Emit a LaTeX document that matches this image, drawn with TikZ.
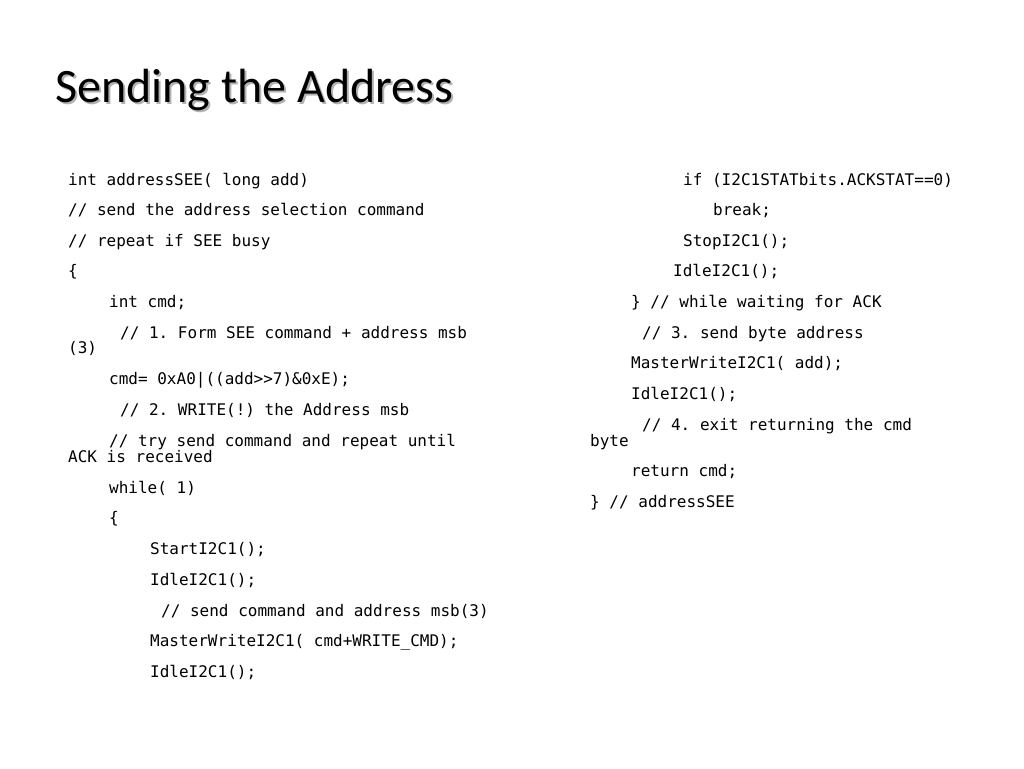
\documentclass[tikz,border=0pt]{standalone}
\usepackage{fontspec}
\setmainfont{Carlito}
\setmonofont{DejaVu Sans Mono}
\usetikzlibrary{shadows}

\begin{document}
\begin{tikzpicture}[x=1pt,y=-1pt,
    codeline/.style={anchor=base west,inner sep=0pt,font=\ttfamily\fontsize{16}{18}\selectfont},
    slidetitle/.style={anchor=base west,inner sep=0pt,font=\fontsize{48}{52}\selectfont}]
        % Slide frame
        \useasboundingbox (0,0) rectangle (1024,768);

        % Title with a soft shadow
        \node[slidetitle,text=gray!60] at (57,104) {Sending the Address};
        \node[slidetitle] (title) at (55,102) {Sending the Address};

        % Left column of code
        \node[codeline] (l1) at (68,185) {int addressSEE( long add)};
        \node[codeline] (l2) at (68,215) {// send the address selection command};
        \node[codeline] (l3) at (68,246) {// repeat if SEE busy};
        \node[codeline] (l4) at (68,276) {\{};
        \node[codeline] (l5) at (109,307) {int cmd;};
        \node[codeline] (l6) at (120,338) {// 1. Form SEE command + address msb};
        \node[codeline] (l7) at (68,353) {(3)};
        \node[codeline] (l8) at (109,384) {cmd= 0xA0|((add>>7)\&0xE);};
        \node[codeline] (l9) at (120,415) {// 2. WRITE(!) the Address msb};
        \node[codeline] (l10) at (109,446) {// try send command and repeat until};
        \node[codeline] (l11) at (68,462) {ACK is received};
        \node[codeline] (l12) at (109,493) {while( 1)};
        \node[codeline] (l13) at (109,523) {\{};
        \node[codeline] (l14) at (150,554) {StartI2C1();};
        \node[codeline] (l15) at (150,585) {IdleI2C1();};
        \node[codeline] (l16) at (161,616) {// send command and address msb(3)};
        \node[codeline] (l17) at (150,646) {MasterWriteI2C1( cmd+WRITE\_CMD);};
        \node[codeline] (l18) at (150,677) {IdleI2C1();};

        % Right column of code
        \node[codeline] (r1) at (683,185) {if (I2C1STATbits.ACKSTAT==0)};
        \node[codeline] (r2) at (713,215) {break;};
        \node[codeline] (r3) at (683,246) {StopI2C1();};
        \node[codeline] (r4) at (673,276) {IdleI2C1();};
        \node[codeline] (r5) at (631,307) {\} // while waiting for ACK};
        \node[codeline] (r6) at (642,338) {// 3. send byte address};
        \node[codeline] (r7) at (631,368) {MasterWriteI2C1( add);};
        \node[codeline] (r8) at (631,399) {IdleI2C1();};
        \node[codeline] (r9) at (642,430) {// 4. exit returning the cmd};
        \node[codeline] (r10) at (590,446) {byte};
        \node[codeline] (r11) at (631,476) {return cmd;};
        \node[codeline] (r12) at (590,507) {\} // addressSEE};
\end{tikzpicture}
\end{document}
